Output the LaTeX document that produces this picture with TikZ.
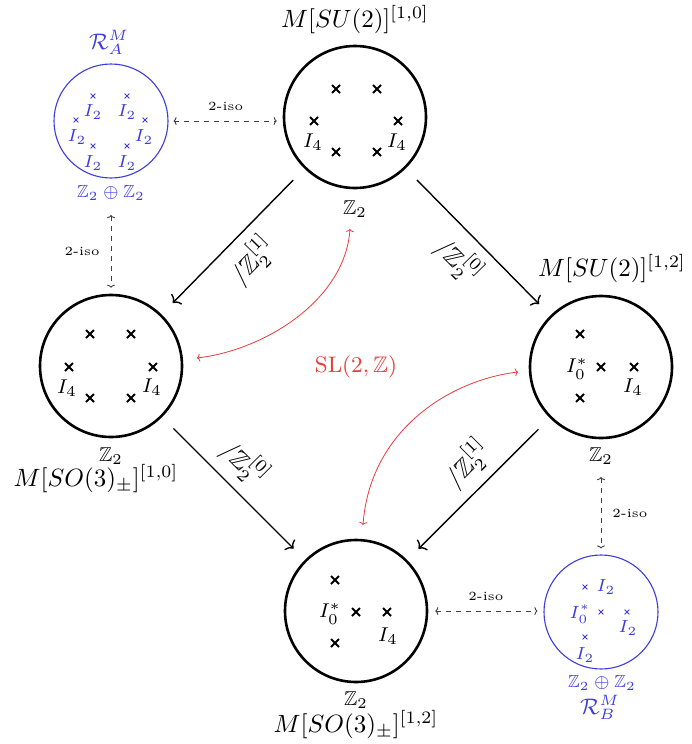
\documentclass[tikz,border=0pt]{standalone}
\usepackage{amssymb}
\usetikzlibrary{arrows.meta}
\definecolor{bl}{RGB}{60,60,225}
\definecolor{rd}{RGB}{235,60,60}
\newcommand\bigcross[2]{\draw[xm] (#1,#2) +(-4,-4) -- +(4,4) +(-4,4) -- +(4,-4);}
\newcommand\smallcross[2]{\draw[xs] (#1,#2) +(-2.4,-2.4) -- +(2.4,2.4) +(-2.4,2.4) -- +(2.4,-2.4);}
\tikzset{
  big/.style={circle,draw,line width=2.6pt,minimum size=142pt,inner sep=0pt},
  small/.style={circle,draw=bl,line width=1.1pt,minimum size=114pt,inner sep=0pt},
  lbl/.style={scale=2.5},
  xm/.style={line width=1.8pt},
  xs/.style={line width=0.9pt,bl},
  arr/.style={line width=1.4pt,-{To[length=6pt,width=15pt]},shorten <=16pt,shorten >=16pt},
  iso/.style={line width=0.9pt,black!75,dash pattern=on 5pt off 5pt,{To[length=3pt,width=8pt]}-{To[length=3pt,width=8pt]}},
  redarr/.style={line width=0.8pt,rd,{To[length=3pt,width=8pt]}-{To[length=3pt,width=8pt]}},
}
\begin{document}
\begin{tikzpicture}[x=1pt,y=-1pt]
\fill[white] (0,0) rectangle (691,744);
\useasboundingbox (0,0) rectangle (691,744);
% main circles
\node[big] (T) at (355,117) {};
\node[big] (L) at (111,366) {};
\node[big] (R) at (601,367) {};
\node[big] (B) at (356,611) {};
\node[small] (A) at (111,121) {};
\node[small] (Bb) at (601,612) {};
% titles
\node[lbl] (Tlab) at (355,20) {$M[SU(2)]^{[1,0]}$};
\node[lbl,font=\footnotesize] (Tz) at (355,209) {$\mathbb{Z}_2$};
\node[lbl] (Rlab) at (612,269) {$M[SU(2)]^{[1,2]}$};
\node[lbl,font=\footnotesize] (Rz) at (601,456) {$\mathbb{Z}_2$};
\node[lbl,font=\footnotesize] (Lz) at (111,456) {$\mathbb{Z}_2$};
\node[lbl] (Llab) at (96,479) {$M[SO(3)_\pm]^{[1,0]}$};
\node[lbl,font=\footnotesize] (Bz) at (356,700) {$\mathbb{Z}_2$};
\node[lbl] (Blab) at (356,725) {$M[SO(3)_\pm]^{[1,2]}$};
\node[lbl,font=\small,text=bl] (Alab) at (109,42) {$\mathcal{R}_A^M$};
\node[lbl,font=\scriptsize,text=bl] (Az) at (111,193) {$\mathbb{Z}_2\oplus\mathbb{Z}_2$};
\node[lbl,font=\scriptsize,text=bl] (Bbz) at (602,683) {$\mathbb{Z}_2\oplus\mathbb{Z}_2$};
\node[lbl,font=\small,text=bl] (Bblab) at (600,707) {$\mathcal{R}_B^M$};
\node[lbl,font=\small,text=rd] (sl) at (356,367) {$\mathrm{SL}(2,\mathbb{Z})$};
% top circle content
\bigcross{336}{89}\bigcross{377}{89}\bigcross{314}{121}\bigcross{398}{121}\bigcross{336}{152}\bigcross{377}{152}
\node[lbl,font=\footnotesize] (t1) at (313,142) {$I_4$};
\node[lbl,font=\footnotesize] (t2) at (397,142) {$I_4$};
% left circle content
\bigcross{90}{334}\bigcross{131}{334}\bigcross{69}{367}\bigcross{153}{367}\bigcross{90}{398}\bigcross{131}{398}
\node[lbl,font=\footnotesize] (l1) at (67,388) {$I_4$};
\node[lbl,font=\footnotesize] (l2) at (152,387) {$I_4$};
% right circle content
\bigcross{580}{334}\bigcross{601}{367}\bigcross{634}{367}\bigcross{580}{398}
\node[lbl,font=\footnotesize] (r1) at (577,369) {$I_0^*$};
\node[lbl,font=\footnotesize] (r2) at (633,387) {$I_4$};
% bottom circle content
\bigcross{335}{580}\bigcross{356}{612}\bigcross{387}{612}\bigcross{335}{643}
\node[lbl,font=\footnotesize] (b1) at (330,614) {$I_0^*$};
\node[lbl,font=\footnotesize] (b2) at (388,636) {$I_4$};
% blue A content
\smallcross{93}{96}\smallcross{127}{96}\smallcross{76}{120}\smallcross{145}{120}\smallcross{93}{146}\smallcross{127}{146}
\begin{scope}[every node/.style={lbl,font=\scriptsize,text=bl}]
\node (a1) at (93,112) {$I_2$};
\node (a2) at (127,112) {$I_2$};
\node (a3) at (77,137) {$I_2$};
\node (a4) at (144,137) {$I_2$};
\node (a5) at (93,163) {$I_2$};
\node (a6) at (127,163) {$I_2$};
\end{scope}
% blue B content
\smallcross{585}{587}\smallcross{601}{612}\smallcross{627}{612}\smallcross{585}{637}
\begin{scope}[every node/.style={lbl,font=\scriptsize,text=bl}]
\node (c1) at (606,587) {$I_2$};
\node (c2) at (580,614) {$I_0^*$};
\node (c3) at (628,628) {$I_2$};
\node (c4) at (585,655) {$I_2$};
\end{scope}
% main arrows
\draw[arr] (T) -- node[pos=0.5,sloped,below,lbl] {$/\mathbb{Z}_2^{[1]}$} (L);
\draw[arr] (T) -- node[pos=0.5,sloped,below,lbl] {$/\mathbb{Z}_2^{[0]}$} (R);
\draw[arr] (L) -- node[pos=0.45,sloped,above,lbl] {$/\mathbb{Z}_2^{[0]}$} (B);
\draw[arr] (R) -- node[pos=0.45,sloped,above,lbl] {$/\mathbb{Z}_2^{[1]}$} (B);
% 2-iso arrows
\draw[iso,shorten <=5pt,shorten >=6pt] (A.east) -- node[above=1pt,lbl,font=\tiny,text=black] (i1) {2-iso} (A.east -| T.west);
\draw[iso,shorten <=6pt,shorten >=6pt] (Az.south) -- node[left=2pt,lbl,font=\tiny,text=black] (i2) {2-iso} (L.north);
\draw[iso,shorten <=4pt,shorten >=6pt] (Rz.south) -- node[right=2pt,lbl,font=\tiny,text=black] (i3) {2-iso} (Bb.north);
\draw[iso,shorten <=7pt,shorten >=6pt] (B.east) -- node[above=1pt,lbl,font=\tiny,text=black] (i4) {2-iso} (B.east -| Bb.west);
% red SL(2,Z) arrows
\coordinate (r1s) at (350,229);
\coordinate (r1e) at (197,358);
\coordinate (r2s) at (518,372);
\coordinate (r2e) at (363,525);
\draw[redarr] (r1s) .. controls (345,300) and (265,350) .. (r1e);
\draw[redarr] (r2s) .. controls (450,380) and (370,430) .. (r2e);
\end{tikzpicture}
\end{document}
